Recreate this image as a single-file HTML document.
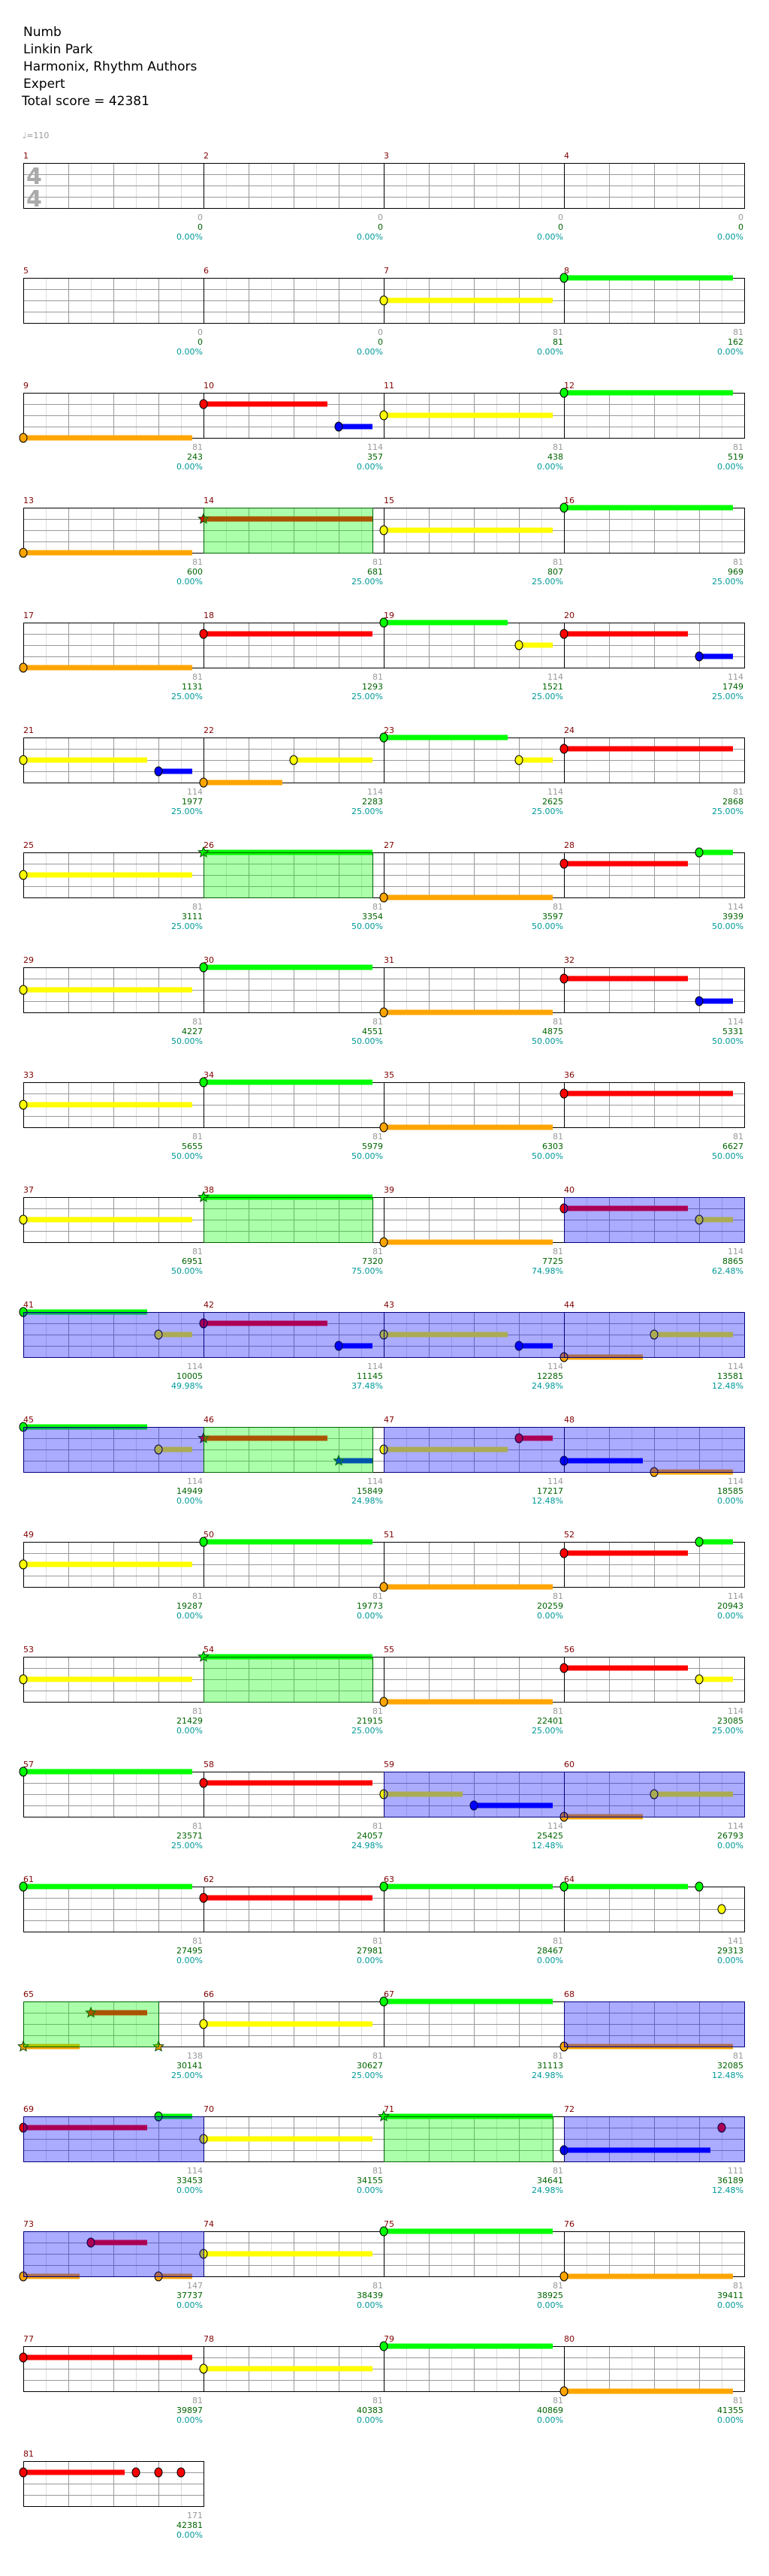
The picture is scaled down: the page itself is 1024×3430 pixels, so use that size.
<!DOCTYPE html>
<html><head><meta charset="utf-8"><title>Numb - Linkin Park</title>
<style>
html,body{margin:0;padding:0;background:#fff;}
svg{display:block;font-family:"DejaVu Sans","Liberation Sans",sans-serif;}
</style></head>
<body>
<svg id="chart" xmlns="http://www.w3.org/2000/svg" width="1024" height="3430" viewBox="0 0 1024 3430">
<g font-size="17" fill="#000">
<text x="31" y="48">Numb</text>
<text x="31" y="71">Linkin Park</text>
<text x="31" y="94">Harmonix, Rhythm Authors</text>
<text x="31" y="117">Expert</text>
<text x="29" y="140">Total score = 42381</text>
</g>
<text x="30" y="184" font-size="11" fill="#999">♩=110</text>
<g id="grid"></g><g id="sus"></g><g id="heads"></g><g id="ovl"></g><g id="labels"></g>
</svg>
<script>
// ---- data ----
const lanes = ["green","red","yellow","blue","orange"];
const laneColors = ["#00ff00","#ff0000","#ffff00","#0000ff","#ffa500"];
// notes: measure, beat offset, lane index, sustain length (beats), star (1/0)
const noteMeasures = [7,8,9,10,10,11,12,13,14,15,16,17,18,19,19,20,20,21,21,22,22,23,23,24,25,26,27,28,28,29,30,31,32,32,33,34,35,36,37,38,39,40,40,41,41,42,42,43,43,44,44,45,45,46,46,47,47,48,48,49,50,51,52,52,53,54,55,56,56,57,58,59,59,60,60,61,62,63,64,64,64,65,65,65,66,67,68,69,69,70,71,72,72,73,73,73,74,75,76,77,78,79,80,81,81,81,81];
const noteBeats =    [0,0,0,0,3,0,0,0,0,0,0,0,0,0,3,0,3,0,3,0,2,0,3,0,0,0,0,0,3,0,0,0,0,3,0,0,0,0,0,0,0,0,3,0,3,0,3,0,3,0,2,0,3,0,3,0,3,0,2,0,0,0,0,3,0,0,0,0,3,0,0,0,2,0,2,0,0,0,0,3,3.5,0,1.5,3,0,0,0,0,3,0,0,0,3.5,0,1.5,3,0,0,0,0,0,0,0,0,2.5,3,3.5];
const noteLanes =    [2,0,4,1,3,2,0,4,1,2,0,4,1,0,2,1,3,2,3,4,2,0,2,1,2,0,4,1,0,2,0,4,1,3,2,0,4,1,2,0,4,1,2,0,2,1,3,2,3,4,2,0,2,1,3,2,1,3,4,2,0,4,1,0,2,0,4,1,2,0,1,2,3,4,2,0,1,0,0,0,2,4,1,4,2,0,4,1,0,2,0,3,1,4,1,4,2,0,4,1,2,0,4,1,1,1,1];
const noteLengths =  [3.75,3.75,3.75,2.75,0.75,3.75,3.75,3.75,3.75,3.75,3.75,3.75,3.75,2.75,0.75,2.75,0.75,2.75,0.75,1.75,1.75,2.75,0.75,3.75,3.75,3.75,3.75,2.75,0.75,3.75,3.75,3.75,2.75,0.75,3.75,3.75,3.75,3.75,3.75,3.75,3.75,2.75,0.75,2.75,0.75,2.75,0.75,2.75,0.75,1.75,1.75,2.75,0.75,2.75,0.75,2.75,0.75,1.75,1.75,3.75,3.75,3.75,2.75,0.75,3.75,3.75,3.75,2.75,0.75,3.75,3.75,1.75,1.75,1.75,1.75,3.75,3.75,3.75,2.75,0,0,1.25,1.25,0,3.75,3.75,3.75,2.75,0.75,3.75,3.75,3.25,0,1.25,1.25,0.75,3.75,3.75,3.75,3.75,3.75,3.75,3.75,2.25,0,0,0];
const noteStars =    [0,0,0,0,0,0,0,0,1,0,0,0,0,0,0,0,0,0,0,0,0,0,0,0,0,1,0,0,0,0,0,0,0,0,0,0,0,0,0,1,0,0,0,0,0,0,0,0,0,0,0,0,0,1,1,0,0,0,0,0,0,0,0,0,0,1,0,0,0,0,0,0,0,0,0,0,0,0,0,0,0,1,1,1,0,0,0,0,0,0,1,0,0,0,0,0,0,0,0,0,0,0,0,0,0,0,0];
// star-power phrases: start measure, start beat, length in beats
const phraseMeasures = [14,26,38,46,54,65,71];
const phraseBeats = [0,0,0,0,0,0,0];
const phraseLengths = [3.75,3.75,3.75,3.75,3.75,3,3.75];
// overdrive active ranges: start measure, end measure (exclusive)
const odStart = [40,47,59,68,72];
const odEnd = [46,49,61,70,74];
// per-measure stats
const measurePoints = [0,0,0,0,0,0,81,81,81,114,81,81,81,81,81,81,81,81,114,114,114,114,114,81,81,81,81,114,81,81,81,114,81,81,81,81,81,81,81,114,114,114,114,114,114,114,114,114,81,81,81,114,81,81,81,114,81,81,114,114,81,81,81,141,138,81,81,81,114,81,81,111,147,81,81,81,81,81,81,81,171];
const cumulativeScores = [0,0,0,0,0,0,81,162,243,357,438,519,600,681,807,969,1131,1293,1521,1749,1977,2283,2625,2868,3111,3354,3597,3939,4227,4551,4875,5331,5655,5979,6303,6627,6951,7320,7725,8865,10005,11145,12285,13581,14949,15849,17217,18585,19287,19773,20259,20943,21429,21915,22401,23085,23571,24057,25425,26793,27495,27981,28467,29313,30141,30627,31113,32085,33453,34155,34641,36189,37737,38439,38925,39411,39897,40383,40869,41355,42381];
const percents = ["0.00%","0.00%","0.00%","0.00%","0.00%","0.00%","0.00%","0.00%","0.00%","0.00%","0.00%","0.00%","0.00%","25.00%","25.00%","25.00%","25.00%","25.00%","25.00%","25.00%","25.00%","25.00%","25.00%","25.00%","25.00%","50.00%","50.00%","50.00%","50.00%","50.00%","50.00%","50.00%","50.00%","50.00%","50.00%","50.00%","50.00%","75.00%","74.98%","62.48%","49.98%","37.48%","24.98%","12.48%","0.00%","24.98%","12.48%","0.00%","0.00%","0.00%","0.00%","0.00%","0.00%","25.00%","25.00%","25.00%","25.00%","24.98%","12.48%","0.00%","0.00%","0.00%","0.00%","0.00%","25.00%","25.00%","24.98%","12.48%","0.00%","0.00%","24.98%","12.48%","0.00%","0.00%","0.00%","0.00%","0.00%","0.00%","0.00%","0.00%","0.00%"];

// ---- layout ----
const NS="http://www.w3.org/2000/svg";
const X0=31, MW=240, TOP=217, ROWH=153, LANE=15, BEAT=60;
function mx(m){return X0+((m-1)%4)*MW;}
function my(m){return TOP+Math.floor((m-1)/4)*ROWH;}
function bx(m,b){return mx(m)+b*BEAT;}
function ly(m,l){return my(m)+l*LANE;}
function mk(tag,attrs,parent){const e=document.createElementNS(NS,tag);for(const k in attrs)e.setAttribute(k,attrs[k]);parent.appendChild(e);return e;}
const G=document.getElementById('grid'),S=document.getElementById('sus'),H=document.getElementById('heads'),O=document.getElementById('ovl'),L=document.getElementById('labels');
const NM=measurePoints.length;

for(let m=1;m<=NM;m++){
  const x=mx(m),y=my(m);
  const g=mk('g',{},G);
  
  
  for(let i=1;i<8;i++){
    mk('line',{x1:x+i*30+0.5,y1:y,x2:x+i*30+0.5,y2:y+60,stroke:i%2?'#dddddd':'#999999','stroke-width':1},g);
  }
  for(let j=1;j<4;j++) mk('line',{x1:x,y1:y+j*15+0.5,x2:x+MW,y2:y+j*15+0.5,stroke:'#999999','stroke-width':1},g);
  mk('line',{x1:x+0.5,y1:y,x2:x+0.5,y2:y+60,stroke:'#000','stroke-width':1},g);
  mk('line',{x1:x+MW+0.5,y1:y,x2:x+MW+0.5,y2:y+60,stroke:'#000','stroke-width':1},g);
  mk('line',{x1:x,y1:y+0.5,x2:x+MW+1,y2:y+0.5,stroke:'#000','stroke-width':1},g);
  mk('line',{x1:x,y1:y+60.5,x2:x+MW+1,y2:y+60.5,stroke:'#000','stroke-width':1},g);
  const num=mk('text',{x:x,y:y-6,'font-size':11,fill:'#800000'},L);
  num.textContent=m;
  
  
  const vals=[measurePoints[m-1],cumulativeScores[m-1],percents[m-1]];
  const cols=['#999999','#006400','#009999'];
  for(let k=0;k<3;k++){
    const t=mk('text',{x:x+MW-1,y:y+76+k*13,'font-size':11,fill:cols[k],'text-anchor':'end'},L);
    t.textContent=vals[k];
    
    
  }
}
// time signature
const ts1=mk('text',{x:35,y:my(1)+28,'font-size':30,fill:'#aaaaaa','font-weight':'bold'},L);ts1.textContent='4';


const ts2=mk('text',{x:35,y:my(1)+58,'font-size':30,fill:'#aaaaaa','font-weight':'bold'},L);ts2.textContent='4';



function starPts(cx,cy,r){let p=[];for(let i=0;i<10;i++){const a=-Math.PI/2+i*Math.PI/5;const rr=i%2?r*0.45:r;p.push((cx+rr*Math.cos(a)).toFixed(1)+','+(cy+rr*Math.sin(a)).toFixed(1));}return p.join(' ');}

for(let i=0;i<noteMeasures.length;i++){
  const m=noteMeasures[i],b=noteBeats[i],l=noteLanes[i],len=noteLengths[i];
  const cx=bx(m,b),cy=ly(m,l),col=laneColors[l];
  if(len>0){
    const r=mk('rect',{x:cx,y:cy-3.5,width:len*BEAT,height:7,fill:col},S);
    
    
  }
  let h;
  if(noteStars[i]) h=mk('polygon',{points:starPts(cx,cy,7),fill:col,stroke:'#004400','stroke-width':1},H);
  else h=mk('ellipse',{cx:cx,cy:cy,rx:5,ry:6,fill:col,stroke:'#000','stroke-width':1},H);
  
  
}
for(let i=0;i<odStart.length;i++){
  for(let m=odStart[i];m<odEnd[i];m++){
    const r=mk('rect',{x:mx(m)+0.5,y:my(m)+0.5,width:MW,height:60,fill:'rgba(0,0,255,0.33)',stroke:'#000080','stroke-width':1},O);
    
    
  }
}
for(let i=0;i<phraseMeasures.length;i++){
  const m=phraseMeasures[i];
  const r=mk('rect',{x:bx(m,phraseBeats[i])+0.5,y:my(m)+0.5,width:phraseLengths[i]*BEAT,height:60,fill:'rgba(0,255,0,0.33)',stroke:'#006400','stroke-width':1},O);
  
  
}
</script>
</body></html>
